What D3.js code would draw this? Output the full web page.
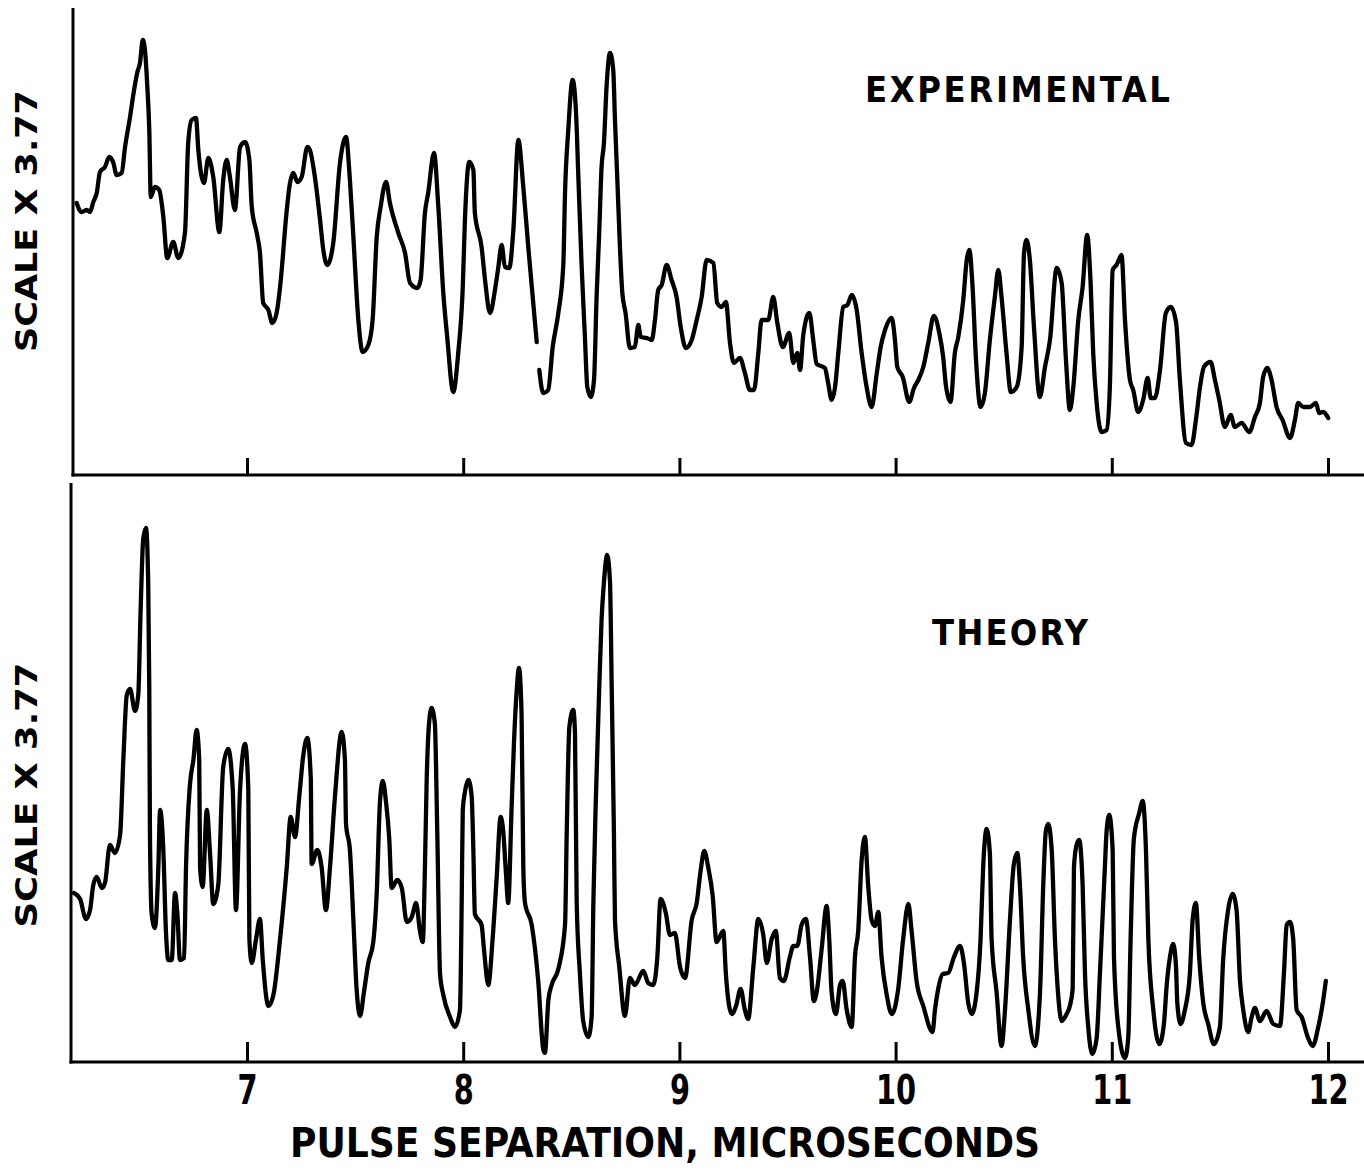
<!DOCTYPE html>
<html>
<head>
<meta charset="utf-8">
<script src="https://cdn.jsdelivr.net/npm/d3@7"></script>
<style>
  html, body { margin: 0; padding: 0; background: #fff; }
  svg { display: block; }
</style>
</head>
<body>
<svg id="chart" width="1364" height="1170"></svg>
<script>
// ---------- DATA (pulse separation in microseconds, amplitude in arbitrary units) ----------
const tickValues = [7, 8, 9, 10, 11, 12];
const tickLabels = ["7", "8", "9", "10", "11", "12"];
const xTitle = "PULSE SEPARATION, MICROSECONDS";
const yTitle = "SCALE X 3.77";
const panelTitles = ["EXPERIMENTAL", "THEORY"];

// Experimental trace (null = pen gap)
const expX = [6.212,6.235,6.259,6.274,6.289,6.305,6.320,6.343,6.363,6.382,6.397,6.420,6.436,6.459,6.474,6.493,6.505,6.518,6.528,6.539,
6.548,6.555,6.574,6.594,6.613,6.631,6.659,6.682,6.713,6.728,6.744,6.764,6.775,6.801,6.821,6.844,6.872,6.890,6.906,6.921,
6.944,6.968,6.991,7.011,7.022,7.045,7.060,7.075,7.099,7.117,7.137,7.153,7.184,7.196,7.214,7.233,7.253,7.279,7.291,7.314,
7.338,7.353,7.371,7.399,7.430,7.458,7.476,7.492,7.515,7.535,7.561,7.581,7.600,7.618,7.643,7.661,7.700,7.731,7.754,7.788,
7.803,7.823,7.838,7.865,7.885,7.908,7.926,7.954,7.977,7.998,8.008,8.028,8.047,8.054,8.085,8.101,8.124,8.147,8.162,8.178,
8.193,8.213,8.232,8.255,8.278,8.301,8.324,8.340,8.346,8.352,8.370,8.393,8.414,8.440,8.463,8.471,8.486,8.506,8.522,8.532,
8.548,8.563,8.574,8.590,8.605,8.617,8.629,8.640,8.651,8.663,8.679,8.694,8.702,8.713,8.725,8.736,8.751,8.771,8.794,8.810,
8.821,8.849,8.872,8.887,8.902,8.918,8.941,8.964,8.987,9.006,9.030,9.057,9.080,9.103,9.126,9.157,9.175,9.195,9.215,9.234,
9.252,9.280,9.303,9.326,9.345,9.365,9.380,9.411,9.434,9.453,9.478,9.508,9.527,9.545,9.558,9.573,9.601,9.619,9.635,9.673,
9.688,9.704,9.720,9.735,9.758,9.777,9.797,9.820,9.843,9.866,9.889,9.913,9.931,9.951,9.982,9.997,10.008,10.033,10.063,10.085,
10.105,10.128,10.151,10.177,10.202,10.220,10.233,10.254,10.274,10.290,10.313,10.329,10.341,10.356,10.372,10.393,10.413,10.436,10.459,10.475,
10.490,10.513,10.533,10.560,10.583,10.594,10.606,10.621,10.640,10.667,10.691,10.714,10.745,10.768,10.788,10.806,10.822,10.845,10.865,10.886,
10.902,10.914,10.930,10.953,10.976,10.991,11.004,11.022,11.045,11.061,11.084,11.099,11.122,11.145,11.166,11.180,11.199,11.223,11.250,11.273,
11.297,11.315,11.343,11.369,11.389,11.408,11.426,11.457,11.477,11.497,11.523,11.550,11.569,11.600,11.636,11.662,11.685,11.700,11.719,11.739,
11.762,11.790,11.824,11.847,11.862,11.885,11.916,11.944,11.959,11.978,12.001];
const expY = [2.72,2.63,2.65,2.63,2.73,2.82,3.03,3.08,3.18,3.12,3.00,3.02,3.28,3.58,3.80,4.03,4.12,4.35,4.25,3.88,
3.45,2.78,2.88,2.85,2.58,2.17,2.33,2.17,2.42,3.32,3.55,3.57,3.25,2.92,3.17,2.98,2.43,2.95,3.15,2.98,
2.65,3.28,3.33,3.15,2.68,2.42,2.22,1.72,1.65,1.52,1.62,1.88,2.65,2.88,3.02,2.93,2.98,3.28,3.25,2.98,
2.55,2.25,2.10,2.32,3.12,3.38,2.95,2.38,1.55,1.23,1.30,1.55,2.38,2.68,2.93,2.72,2.42,2.22,1.92,1.87,
1.95,2.62,2.82,3.22,2.68,1.82,1.38,0.83,1.22,1.88,2.55,3.13,3.05,2.62,2.28,1.95,1.62,1.85,2.07,2.30,
2.08,2.07,2.45,3.35,2.88,2.28,1.72,1.33,null,1.05,0.82,0.85,1.28,1.62,2.10,2.82,3.45,3.95,3.62,3.02,
2.08,1.38,0.88,0.78,0.95,1.78,2.42,3.08,3.32,3.88,4.22,4.05,3.55,2.95,2.28,1.82,1.62,1.27,1.28,1.50,
1.38,1.37,1.35,1.55,1.85,1.90,2.10,1.95,1.78,1.48,1.27,1.35,1.55,1.78,2.15,2.12,1.72,1.68,1.73,1.32,
1.12,1.17,1.02,0.85,0.85,1.22,1.55,1.55,1.78,1.52,1.28,1.42,1.12,1.22,1.05,1.40,1.62,1.35,1.11,1.07,
0.92,0.75,0.88,1.22,1.68,1.70,1.80,1.65,1.22,0.88,0.68,1.02,1.28,1.45,1.57,1.35,1.08,0.98,0.73,0.87,
0.95,1.08,1.32,1.59,1.42,1.18,0.89,0.73,1.22,1.38,1.75,2.15,2.25,1.88,1.15,0.68,0.82,1.35,1.78,2.05,
1.78,1.22,0.83,0.88,1.28,2.22,2.35,2.15,1.48,0.78,1.08,1.35,2.07,1.92,1.15,0.65,0.88,1.55,1.88,2.40,
1.92,1.22,0.72,0.43,0.45,0.88,2.05,2.10,2.20,1.55,0.95,0.85,0.63,0.75,0.97,0.77,0.77,1.05,1.62,1.68,
1.53,0.95,0.32,0.30,0.55,0.88,1.08,1.13,0.95,0.75,0.48,0.60,0.48,0.52,0.43,0.58,0.72,0.98,1.07,0.95,
0.68,0.55,0.37,0.55,0.72,0.68,0.68,0.72,0.62,0.63,0.57];

// Theory trace
const theoryX = [6.200,6.228,6.255,6.274,6.289,6.305,6.328,6.343,6.366,6.389,6.413,6.428,6.444,6.459,6.482,6.497,6.508,6.520,6.533,6.543,
6.548,6.551,6.559,6.574,6.590,6.598,6.613,6.625,6.636,6.652,6.667,6.678,6.690,6.709,6.718,6.736,6.752,6.767,6.779,6.783,
6.795,6.814,6.829,6.844,6.867,6.890,6.913,6.934,6.949,6.968,6.991,7.006,7.011,7.022,7.042,7.060,7.073,7.099,7.122,7.153,
7.184,7.202,7.222,7.242,7.260,7.279,7.295,7.299,7.325,7.345,7.365,7.384,7.407,7.438,7.453,7.458,7.476,7.492,7.507,7.523,
7.541,7.561,7.584,7.600,7.615,7.628,7.643,7.658,7.669,7.695,7.716,7.739,7.762,7.782,7.800,7.813,7.823,7.831,7.843,7.854,
7.869,7.880,7.893,7.908,7.939,7.962,7.985,7.993,7.998,8.008,8.024,8.039,8.047,8.054,8.085,8.096,8.116,8.136,8.155,8.173,
8.185,8.198,8.208,8.224,8.235,8.247,8.258,8.270,8.278,8.286,8.317,8.347,8.370,8.378,8.394,8.409,8.440,8.471,8.479,8.491,
8.509,8.517,8.525,8.540,8.555,8.579,8.594,8.602,8.614,8.629,8.640,8.651,8.666,8.679,8.687,8.697,8.702,8.722,8.748,8.771,
8.794,8.833,8.856,8.879,8.898,8.913,8.938,8.956,8.979,9.003,9.026,9.057,9.080,9.098,9.115,9.133,9.154,9.172,9.203,9.215,
9.242,9.262,9.283,9.303,9.318,9.342,9.365,9.388,9.404,9.427,9.446,9.465,9.483,9.511,9.527,9.545,9.565,9.585,9.604,9.622,
9.635,9.658,9.681,9.693,9.704,9.724,9.743,9.755,9.774,9.797,9.812,9.827,9.843,9.858,9.873,9.889,9.904,9.920,9.935,9.959,
9.982,10.012,10.035,10.059,10.074,10.097,10.128,10.171,10.182,10.197,10.218,10.243,10.270,10.298,10.316,10.336,10.352,10.375,10.393,10.405,
10.421,10.436,10.444,10.467,10.490,10.506,10.529,10.547,10.563,10.575,10.590,10.614,10.644,10.668,10.683,10.695,10.706,10.722,10.737,10.752,
10.768,10.791,10.806,10.819,10.825,10.837,10.849,10.865,10.876,10.891,10.910,10.930,10.945,10.968,10.976,10.988,11.004,11.010,11.030,11.061,
11.076,11.087,11.102,11.127,11.143,11.158,11.169,11.192,11.220,11.241,11.254,11.269,11.284,11.297,11.303,11.318,11.338,11.361,11.374,11.389,
11.404,11.423,11.446,11.472,11.500,11.515,11.538,11.559,11.577,11.593,11.608,11.631,11.647,11.662,11.685,11.716,11.747,11.778,11.796,11.809,
11.824,11.839,11.855,11.878,11.908,11.929,11.955,11.978,11.990];
const theoryY = [1.69,1.63,1.43,1.52,1.77,1.85,1.74,1.79,2.17,2.09,2.27,3.02,3.67,3.73,3.51,3.67,4.52,5.23,5.34,4.80,
3.73,2.31,1.48,1.34,1.95,2.52,2.12,1.31,1.02,1.02,1.69,1.48,1.02,1.04,1.95,2.77,3.02,3.32,3.02,1.95,
1.75,2.52,2.09,1.58,1.77,2.95,3.13,2.73,1.52,2.73,3.18,2.73,1.23,0.99,1.23,1.43,1.02,0.56,0.67,1.23,
1.95,2.45,2.25,2.66,3.06,3.24,2.84,1.98,2.12,1.95,1.52,1.95,2.66,3.30,3.02,2.38,2.12,1.42,0.73,0.46,
0.70,0.99,1.20,1.69,2.60,2.81,2.60,2.23,1.74,1.82,1.74,1.40,1.45,1.59,1.31,1.20,1.95,2.81,3.41,3.54,
3.38,2.31,0.88,0.67,0.45,0.35,0.52,1.59,2.52,2.70,2.82,2.66,2.12,1.48,1.37,1.13,0.77,1.23,1.85,2.45,
2.31,1.88,1.59,2.55,3.20,3.70,3.94,3.48,1.95,1.59,1.37,0.81,0.13,0.09,0.62,0.77,0.93,1.37,2.31,3.35,
3.52,3.30,1.59,0.88,0.41,0.25,0.45,1.59,2.66,3.73,4.42,4.80,5.07,4.80,3.73,2.31,1.42,0.95,0.46,0.84,
0.77,0.91,0.79,0.77,1.05,1.63,1.48,1.27,1.29,0.95,0.84,1.42,1.59,1.91,2.11,1.95,1.66,1.20,1.31,0.88,
0.48,0.56,0.73,0.52,0.43,0.95,1.43,1.27,0.99,1.23,1.31,0.84,0.81,1.05,1.16,1.16,1.37,1.43,1.05,0.61,
0.70,1.13,1.56,1.23,0.70,0.48,0.77,0.81,0.52,0.35,1.05,1.31,2.02,2.25,1.77,1.42,1.36,1.50,1.05,0.67,
0.48,0.73,1.23,1.58,1.31,0.81,0.56,0.30,0.52,0.73,0.88,0.89,1.05,1.16,0.99,0.59,0.48,0.70,1.23,1.95,
2.33,2.09,1.23,0.70,0.16,0.52,1.42,1.98,2.09,1.77,1.05,0.52,0.16,0.70,1.77,2.31,2.38,2.12,1.23,0.67,
0.41,0.48,0.56,0.73,1.95,2.17,2.22,1.77,0.88,0.35,0.08,0.24,0.88,1.95,2.31,2.47,2.12,1.05,0.35,0.04,
0.24,1.23,2.23,2.49,2.61,2.12,1.23,0.52,0.18,0.38,0.77,1.05,1.18,0.95,0.59,0.38,0.52,0.88,1.42,1.59,
1.05,0.59,0.38,0.18,0.35,1.02,1.52,1.68,1.52,0.81,0.52,0.30,0.45,0.54,0.41,0.51,0.38,0.36,0.88,1.37,
1.40,1.23,0.52,0.45,0.24,0.16,0.35,0.62,0.81];

// ---------- DRAWING ----------
const svg = d3.select("#chart");
const ink = "#000";
const narrow = "'DejaVu Sans Condensed', 'DejaVu Sans', sans-serif";

const x = d3.scaleLinear().domain([7, 12]).range([247, 1328]);

const panels = [
  { xs: expX, ys: expY, top: 8, base: 475, axisX: 73, ymax: 4.67, tick: 17,
    title: panelTitles[0], titleX: 865, titleY: 102, titleLen: 305,
    labelY: 221, labelLen: 262 },
  { xs: theoryX, ys: theoryY, top: 483, base: 1062, axisX: 71, ymax: 5.79, tick: 20,
    title: panelTitles[1], titleX: 932, titleY: 645, titleLen: 156,
    labelY: 795, labelLen: 265 }
];

panels.forEach((p, i) => {
  const y = d3.scaleLinear().domain([0, p.ymax]).range([p.base, p.top]);
  const g = svg.append("g");

  // axis frame lines
  g.append("line").attr("x1", p.axisX).attr("x2", p.axisX)
    .attr("y1", p.top).attr("y2", p.base + 1.5)
    .attr("stroke", ink).attr("stroke-width", 3);
  g.append("line").attr("x1", p.axisX - 1.5).attr("x2", 1364)
    .attr("y1", p.base).attr("y2", p.base)
    .attr("stroke", ink).attr("stroke-width", 3);

  // upward tick marks
  const ax = d3.axisTop(x).tickValues(tickValues).tickSize(p.tick).tickSizeOuter(0).tickFormat("");
  const axg = g.append("g").attr("transform", `translate(0,${p.base})`).call(ax);
  axg.select(".domain").remove();
  axg.selectAll(".tick line").attr("stroke", ink).attr("stroke-width", 3);

  // the trace
  const pts = p.xs.map((v, k) => [v, p.ys[k]]);
  const line = d3.line()
    .defined(d => d[1] !== null)
    .x(d => x(d[0])).y(d => y(d[1]))
    .curve(d3.curveMonotoneX);
  g.append("path").datum(pts).attr("d", line)
    .attr("fill", "none").attr("stroke", ink).attr("stroke-width", 4.3)
    .attr("stroke-linejoin", "round").attr("stroke-linecap", "round");

  // panel title
  g.append("text").attr("x", p.titleX).attr("y", p.titleY)
    .attr("textLength", p.titleLen).attr("lengthAdjust", "spacing")
    .attr("font-family", narrow).attr("font-weight", "bold")
    .attr("font-size", 36).attr("fill", ink).text(p.title);

  // rotated y label
  g.append("text")
    .attr("transform", `translate(37,${p.labelY}) rotate(-90)`)
    .attr("text-anchor", "middle")
    .attr("textLength", p.labelLen).attr("lengthAdjust", "spacingAndGlyphs")
    .attr("font-family", narrow)
    .attr("font-weight", "bold").attr("font-size", 31).attr("fill", ink)
    .text(yTitle);

  if (i === 1) {
    const bx = d3.axisBottom(x).tickValues(tickValues).tickSize(0).tickPadding(14)
      .tickFormat((d, k) => tickLabels[k]);
    const bg = g.append("g").attr("transform", `translate(0,${p.base})`).call(bx);
    bg.select(".domain").remove();
    bg.selectAll(".tick text")
      .attr("font-family", narrow)
      .attr("font-weight", "bold").attr("font-size", 40).attr("fill", ink)
      .attr("transform", "scale(0.8,1)");
  }
});

svg.append("text").attr("x", 290).attr("y", 1157)
  .attr("textLength", 750).attr("lengthAdjust", "spacingAndGlyphs")
  .attr("font-family", narrow)
  .attr("font-weight", "bold").attr("font-size", 40).attr("fill", ink)
  .text(xTitle);
</script>
</body>
</html>
